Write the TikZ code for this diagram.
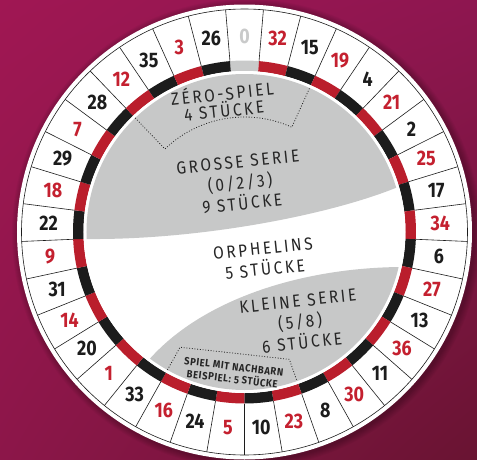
\documentclass[tikz,border=0pt]{standalone}
\usepackage{fontspec}
\usetikzlibrary{shadings}
\setmainfont{Fira Sans}
\newfontfamily\numfont[FakeStretch=0.85]{Fira Sans}
\newfontfamily\lblfont[FakeStretch=0.88,LetterSpace=15]{Fira Sans}
\newfontfamily\smallfont[FakeStretch=0.9,LetterSpace=6]{Fira Sans}
\definecolor{rred}{HTML}{BA1E2C}
\definecolor{nred}{HTML}{C4202F}
\definecolor{bblack}{HTML}{1C1C1C}
\definecolor{zgray}{HTML}{C9CACA}
\definecolor{igray}{HTML}{C7C8C8}
\definecolor{txt}{HTML}{262626}
\definecolor{bgTL}{HTML}{A01753}
\definecolor{bgTR}{HTML}{8E1650}
\definecolor{bgBL}{HTML}{8C1649}
\definecolor{bgBR}{HTML}{691432}
\tikzset{
  numlbl/.style={font=\numfont\bfseries\fontsize{21}{21}\selectfont, inner sep=0pt},
  biglbl/.style={font=\lblfont\fontsize{17.5}{21}\selectfont, text=txt, align=center, inner sep=0pt},
  smalllbl/.style={font=\smallfont\bfseries\fontsize{10.5}{12.5}\selectfont, text=txt, align=center, inner sep=0pt},
  dotline/.style={draw=txt, line width=0.8pt, dash pattern=on 0.9pt off 1.8pt},
  cellline/.style={draw=bblack, line width=0.6pt}
}
\begin{document}
\begin{tikzpicture}[x=1pt,y=1pt]
\useasboundingbox (-244.5,-227) rectangle (232.5,232);
\shade[upper left=bgTL, upper right=bgTR, lower left=bgBL, lower right=bgBR] (-244.5,-227) rectangle (232.5,232);
% soft shadow
\foreach \r in {1,...,7}{
  \fill[black, opacity=0.035] (2,-1.5) circle[radius=227.5pt+\r pt];
}
% outer white ring
\fill[white] (0,0) circle[radius=227.5pt];
% pocket bands and numbers
\foreach \n/\c/\t [count=\i from 0] in {0/zgray/zgray,32/rred/nred,15/bblack/bblack,19/rred/nred,4/bblack/bblack,21/rred/nred,2/bblack/bblack,25/rred/nred,17/bblack/bblack,34/rred/nred,6/bblack/bblack,27/rred/nred,13/bblack/bblack,36/rred/nred,11/bblack/bblack,30/rred/nred,8/bblack/bblack,23/rred/nred,10/bblack/bblack,5/rred/nred,24/bblack/bblack,16/rred/nred,33/bblack/bblack,1/rred/nred,20/bblack/bblack,14/rred/nred,31/bblack/bblack,9/rred/nred,22/bblack/bblack,18/rred/nred,29/bblack/bblack,7/rred/nred,28/bblack/bblack,12/rred/nred,35/bblack/bblack,3/rred/nred,26/bblack/bblack}{
  \pgfmathsetmacro\a{90-\i*360/37}
  \pgfmathsetmacro\aa{\a+180/37}
  \pgfmathsetmacro\ab{\a-180/37}
  \fill[\c] (\aa:171.5) arc[start angle=\aa, end angle=\ab, radius=171.5pt] -- (\ab:161) arc[start angle=\ab, end angle=\aa, radius=161pt] -- cycle;
  \draw[cellline] (\ab:171.5) -- (\ab:223);
  \node[numlbl, text=\t] (n\i) at (\a:196) {\n};
}
\draw[cellline] (0,0) circle[radius=223pt];
% interior
\fill[white] (0,0) circle[radius=161pt];
\begin{scope}
  \clip (0,0) circle[radius=158pt];
  \fill[igray] (-175,-7) -- (-157.5,-7) .. controls (-44.5,-8) and (85.5,17) .. (153.5,45) -- (175,54) -- (175,175) -- (-175,175) -- cycle;
  \fill[igray] (175,-35) -- (155.5,-35) .. controls (55.5,-36) and (-44.5,-68) .. (-97.5,-130) -- (-115,-155) -- (-115,-175) -- (175,-175) -- cycle;
\end{scope}
% zero-spiel sector
\coordinate (z1) at (133.78:158);
\coordinate (z2) at (133.78:115);
\coordinate (z3) at (65.68:115);
\coordinate (z4) at (65.68:158);
\draw[dotline] (z1) -- (z2) arc[start angle=133.78, end angle=65.68, radius=115pt] -- (z4);
% nachbarn box
\coordinate (b1) at (240.8:158);
\coordinate (b2) at (240.8:132);
\coordinate (b3) at (289.4:135);
\coordinate (b4) at (289.4:158);
\draw[dotline] (b1) -- (b2) -- (b3) -- (b4);
% labels
\node[biglbl, font=\lblfont\fontsize{17.5}{17}\selectfont, rotate=6] (zero) at (-21.5,131) {ZÉRO-SPIEL\\4 STÜCKE};
\node[biglbl, rotate=6] (gross) at (-4.5,49) {GROSSE SERIE\\(0/2/3)\\9 STÜCKE};
\node[biglbl, rotate=6] (orph) at (19.5,-27) {ORPHELINS\\5 STÜCKE};
\node[biglbl, rotate=6] (klein) at (55.5,-90) {KLEINE SERIE\\(5/8)\\6 STÜCKE};
\node[smalllbl, rotate=-7] (nach) at (-11.5,-141) {SPIEL MIT NACHBARN\\BEISPIEL: 5 STÜCKE};
\end{tikzpicture}
\end{document}
